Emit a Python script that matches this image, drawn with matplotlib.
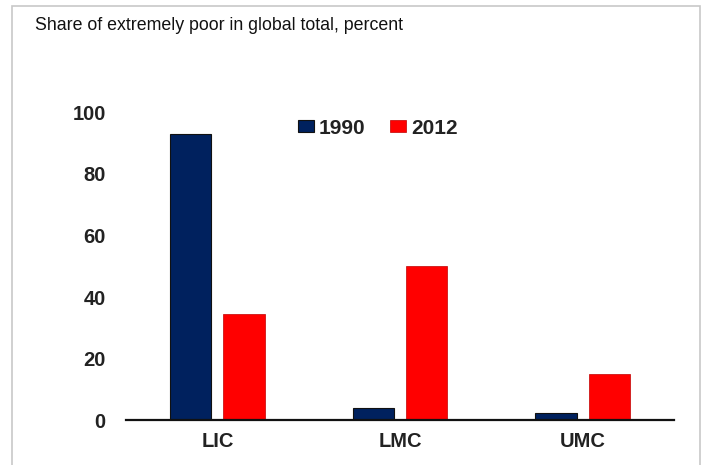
import numpy as np
import matplotlib
matplotlib.use("Agg")
import matplotlib.pyplot as plt
from matplotlib.patches import Rectangle

categories = ["LIC", "LMC", "UMC"]
series_names = ["1990", "2012"]
share_1990 = [93, 4.2, 2.5]
share_2012 = [34.5, 50, 15]
y_ticks = [0, 20, 40, 60, 80, 100]

plt.rcParams["font.family"] = ["Liberation Sans", "DejaVu Sans"]

fig = plt.figure(figsize=(7.09, 4.65), dpi=100)
ax = fig.add_axes([0.1777, 0.0957, 0.7729, 0.663])

x = np.arange(len(categories))
w = 0.225
off = 0.146
ax.bar(x - off, share_1990, w, color="#00215e", edgecolor="#111111",
       linewidth=0.8, label=series_names[0])
ax.bar(x + off, share_2012, w, color="#ff0000", edgecolor="#c00000",
       linewidth=0.5, label=series_names[1])

ax.set_xlim(-0.5, 2.5)
ax.set_ylim(0, 100)
ax.set_yticks(y_ticks)
ax.set_xticks(x)
ax.set_xticklabels(categories)
ax.tick_params(axis="both", length=0, labelsize=14.5, colors="#222222")
ax.tick_params(axis="y", pad=14.5)
ax.tick_params(axis="x", pad=8)
for lab in ax.get_xticklabels() + ax.get_yticklabels():
    lab.set_fontweight("bold")

for s in ["top", "right", "left"]:
    ax.spines[s].set_visible(False)
ax.spines["bottom"].set_linewidth(1.6)
ax.spines["bottom"].set_color("#111111")

leg = ax.legend(loc="center left", bbox_to_anchor=(298 / 709, 1 - 128 / 465),
                bbox_transform=fig.transFigure, borderpad=0, borderaxespad=0,
                ncol=2, frameon=False, fontsize=15, handlelength=0.75,
                handleheight=0.5, handletextpad=0.25, columnspacing=1.2)
for t in leg.get_texts():
    t.set_fontweight("bold")
    t.set_color("#222222")

fig.text(0.05, 0.945, "Share of extremely poor in global total, percent",
         fontsize=12.8, color="#111111", va="center", ha="left")

fig.patches.append(Rectangle((12 / 709, -0.01), (700 - 12) / 709, 1 - 6 / 465 + 0.01,
                             transform=fig.transFigure, fill=False,
                             edgecolor="#c8c8c8", linewidth=1.2))

fig.savefig("out.png", dpi=100)
